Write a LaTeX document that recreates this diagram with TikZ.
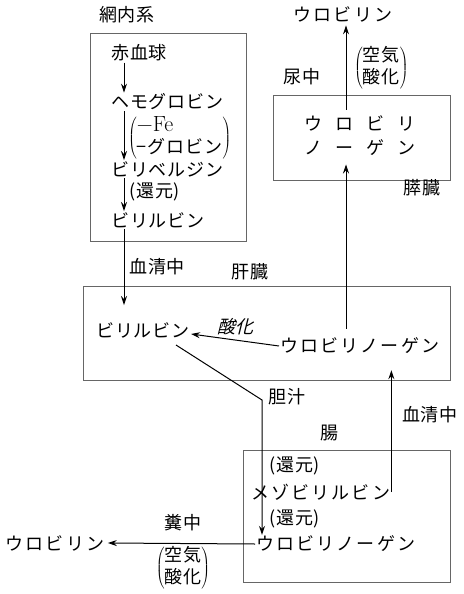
\documentclass[tikz,border=0pt]{standalone}
\usepackage[no-math]{fontspec}
\setmainfont{Noto Sans CJK JP}[LetterSpace=5]
\newfontfamily\widejp{Noto Sans CJK JP}[LetterSpace=12]
\newfontfamily\slantjp{Noto Sans CJK JP}[FakeSlant=0.25]
\newfontfamily\lmroman{Latin Modern Roman}
\usetikzlibrary{arrows.meta}
\newcommand{\paren}[1]{$\left(\begin{tabular}{@{}l@{}}#1\end{tabular}\right)$}

\begin{document}
\begin{tikzpicture}[x=1pt, y=-1pt,
  every node/.style={font=\fontsize{18}{21}\selectfont},
  organ/.style={draw=black!60, line width=0.7pt, inner sep=0pt},
  chem/.style={inner sep=1pt, anchor=west},
  wide/.style={font=\fontsize{18}{21}\selectfont\widejp},
  flow/.style={line width=1pt, -{Stealth[length=9pt, width=6pt, inset=3pt]}}]
  \useasboundingbox (0,0) rectangle (463,594);
  % organs
  \node[organ, minimum width=156pt, minimum height=208pt] (reb) at (168,137) {};
  \node[organ, minimum width=367pt, minimum height=94pt] (liver) at (266.5,333) {};
  \node[organ, minimum width=177pt, minimum height=85pt] (kidney) at (361.5,137.5) {};
  \node[organ, minimum width=207pt, minimum height=132pt] (gut) at (346.5,516) {};
  \node (rebname) at (127,15) {網内系};
  \node (livername) at (250,272) {肝臓};
  \node (kidname) at (422,188) {膵臓};
  \node (gutname) at (329,433) {腸};
  % reticuloendothelial system
  \node[chem] (rbc) at (110,53) {赤血球};
  \node[chem] (hb) at (110,102) {ヘモグロビン};
  \node[chem, inner sep=0pt] (pfe) at (128,138) {\paren{{\lmroman\fontsize{22}{21}\selectfont −Fe}\\−グロビン}};
  \node[chem] (bv) at (110,169) {ビリベルジン};
  \node[chem] (red0) at (128,192) {(還元)};
  \node[chem] (br1) at (110,220) {ビリルビン};
  \draw[flow] ([xshift=14pt]rbc.south west) -- ([xshift=14pt]hb.north west);
  \draw[flow] ([xshift=14pt]hb.south west) -- ([xshift=14pt]bv.north west);
  \draw[flow] ([xshift=14pt]bv.south west) -- ([xshift=14pt]br1.north west);
  % liver
  \node[chem] (serum1) at (128,267) {血清中};
  \node[chem] (br2) at (95,330) {ビリルビン};
  \node[chem, wide] (ubg1) at (279,346) {ウロビリノーゲン};
  \draw[flow] ([xshift=14pt]br1.south west) -- ([xshift=14pt, yshift=16pt]br1.south west |- br2.north);
  \draw[flow] (ubg1.west) -- node[above=1pt, font=\fontsize{18}{21}\selectfont\slantjp] {酸化} ([yshift=-4pt]br2.east);
  % kidney
  \node[align=center] (kid) at (360,136) {ウ\hspace{13pt}ロ\hspace{13pt}ビ\hspace{13pt}リ\\[3pt]ノ\hspace{13pt}ー\hspace{13pt}ゲ\hspace{13pt}ン};
  \node[wide] (ub1) at (343,14) {ウロビリン};
  \node (urine) at (302,77) {尿中};
  \node[anchor=west, inner sep=0pt] (air1) at (354,68) {\paren{空気\\酸化}};
  \draw[flow] ([xshift=67pt, yshift=8pt]ubg1.north west) -- ([xshift=67pt, yshift=-5pt]ubg1.north west |- kid.south);
  \draw[flow] ([xshift=-14pt, yshift=3pt]kid.north) -- ([xshift=-14pt]kid.north |- ub1.south);
  % intestine
  \node (bile) at (287,397) {胆汁};
  \node[chem] (red1) at (268,466) {(還元)};
  \node[chem, wide] (mbr) at (250,492) {メゾビリルビン};
  \node[chem] (red2) at (268,519) {(還元)};
  \node[chem, wide] (ubg2) at (255,544) {ウロビリノーゲン};
  \coordinate (bend) at (262,400);
  \draw[flow] ([xshift=-15pt, yshift=-15pt]br2.east) -- (bend) -- (bend |- ubg2.north);
  \node (serum2) at (430,415) {血清中};
  \draw[flow] (mbr.east) -- ([yshift=-15pt]mbr.east |- ubg1.south);
  \node[wide] (ub2) at (55,543) {ウロビリン};
  \node (feces) at (183,523) {糞中};
  \node[inner sep=0pt] (air2) at (183,568) {\paren{空気\\酸化}};
  \draw[flow] (ubg2.west) -- (ub2.east);
\end{tikzpicture}
\end{document}
